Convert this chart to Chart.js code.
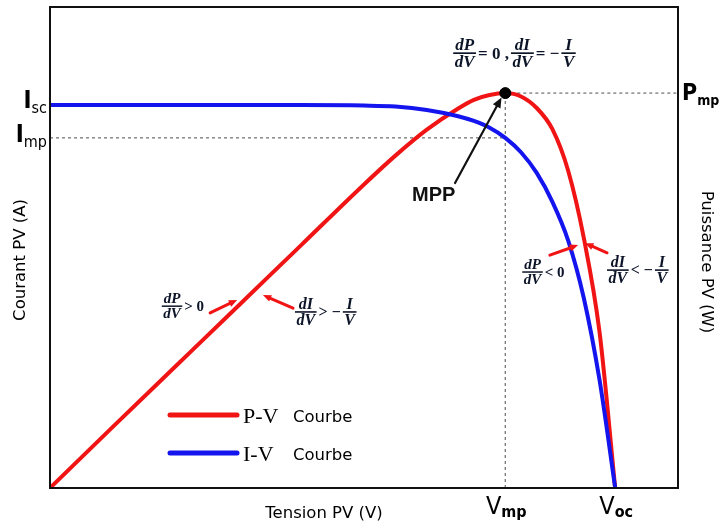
<!DOCTYPE html>
<html>
<head>
<meta charset="utf-8">
<script src="https://cdn.jsdelivr.net/npm/chart.js@4/dist/chart.umd.min.js"></script>
<style>
  html, body { margin: 0; padding: 0; background: #fff; }
  #wrap { width: 720px; height: 527px; position: relative; }
</style>
</head>
<body>
<div id="wrap"><canvas id="pv"></canvas></div>
<script>
// PV module characteristic (normalised units)
const voltage = [0, 1, 2, 3, 4, 5, 5.5, 6, 6.5, 6.75, 7, 7.25, 7.5, 7.75, 8, 8.25, 8.5, 8.75, 9];
const current = [7.96, 7.96, 7.96, 7.96, 7.96, 7.95, 7.93, 7.86, 7.73, 7.63, 7.49, 7.28, 6.98, 6.55, 5.95, 5.15, 3.95, 2.25, 0];
const power   = [0, 1.27, 2.53, 3.79, 5.05, 6.31, 6.91, 7.45, 7.89, 8.07, 8.17, 8.21, 8.14, 7.9, 7.46, 6.6, 5.2, 3.25, 0];

// characteristic points
const mppVoltage = [7.25];
const mppCurrent = [7.28];
const mppPower   = [8.21];
const shortCircuitCurrent = [7.96];
const openCircuitVoltage  = [9];

// tick labels: main letter + subscript
const leftTickValues  = [shortCircuitCurrent[0], mppCurrent[0]];
const leftTickLabels  = [['I', 'sc'], ['I', 'mp']];
const rightTickValues = [mppPower[0]];
const rightTickLabels = [['P', 'mp']];
const bottomTickValues = [mppVoltage[0], openCircuitVoltage[0]];
const bottomTickLabels = [['V', 'mp'], ['V', 'oc']];

const xTitle = 'Tension PV (V)';
const yTitle = 'Courant PV (A)';
const y1Title = 'Puissance PV (W)';
const legendNames = ['P-V', 'I-V'];
const legendWord = 'Courbe';

const RED = '#f01414';
const BLUE = '#1414ee';
const INK = '#0c1428';

const pts = (xs, ys) => xs.map((x, i) => ({ x, y: ys[i] }));

// ---------- drawing helpers ----------
function fraction(ctx, left, barY, num, den, size) {
  ctx.font = `bold italic ${size}px "Liberation Serif", "Times New Roman", serif`;
  const w = Math.max(ctx.measureText(num).width, ctx.measureText(den).width) + 3;
  const cx = left + w / 2;
  ctx.textAlign = 'center';
  ctx.textBaseline = 'alphabetic';
  ctx.fillText(num, cx, barY - 3);
  ctx.fillText(den, cx, barY + size * 0.8);
  ctx.lineWidth = Math.max(1.4, size / 10);
  ctx.beginPath();
  ctx.moveTo(left, barY);
  ctx.lineTo(left + w, barY);
  ctx.stroke();
  return w;
}

function formula(ctx, tokens, left, barY, size) {
  ctx.save();
  ctx.fillStyle = INK;
  ctx.strokeStyle = INK;
  let x = left;
  tokens.forEach(t => {
    if (Array.isArray(t)) {
      x += fraction(ctx, x, barY, t[0], t[1], size) + 2;
    } else {
      ctx.font = `bold ${size}px "Liberation Serif", "Times New Roman", serif`;
      ctx.textAlign = 'left';
      ctx.textBaseline = 'alphabetic';
      ctx.fillText(t, x, barY + size * 0.33);
      x += ctx.measureText(t).width + 2;
    }
  });
  ctx.restore();
}

function arrow(ctx, x1, y1, x2, y2, color, width, head) {
  const a = Math.atan2(y2 - y1, x2 - x1);
  ctx.save();
  ctx.strokeStyle = color;
  ctx.fillStyle = color;
  ctx.lineWidth = width;
  ctx.lineCap = 'round';
  ctx.beginPath();
  ctx.moveTo(x1, y1);
  ctx.lineTo(x2 - Math.cos(a) * head * 0.7, y2 - Math.sin(a) * head * 0.7);
  ctx.stroke();
  ctx.beginPath();
  ctx.moveTo(x2, y2);
  ctx.lineTo(x2 - head * Math.cos(a - 0.4), y2 - head * Math.sin(a - 0.4));
  ctx.lineTo(x2 - head * Math.cos(a + 0.4), y2 - head * Math.sin(a + 0.4));
  ctx.closePath();
  ctx.fill();
  ctx.restore();
}

function subLabel(ctx, main, sub, x, base, mainFont, subFont, subDrop, align) {
  ctx.font = mainFont;
  const wm = ctx.measureText(main).width;
  ctx.font = subFont;
  const ws = ctx.measureText(sub).width;
  let left = x;
  if (align === 'right') left = x - wm - ws;
  if (align === 'center') left = x - (wm + ws) / 2;
  ctx.textAlign = 'left';
  ctx.textBaseline = 'alphabetic';
  ctx.font = mainFont;
  ctx.fillText(main, left, base);
  ctx.font = subFont;
  ctx.fillText(sub, left + wm, base + subDrop);
}

// ---------- overlay plugin: frame, axis labels, annotations, legend ----------
const overlay = {
  id: 'overlay',
  afterDatasetsDraw(chart) {
    const { ctx, chartArea: ca, scales } = chart;
    const X = v => scales.x.getPixelForValue(v);
    const Y = v => scales.y.getPixelForValue(v);
    const Y1 = v => scales.y1.getPixelForValue(v);

    ctx.save();
    // plot frame
    ctx.strokeStyle = '#111';
    ctx.lineWidth = 2;
    ctx.strokeRect(ca.left, ca.top, ca.right - ca.left, ca.bottom - ca.top);

    ctx.fillStyle = '#000';
    // left labels
    leftTickValues.forEach((v, i) => {
      subLabel(ctx, leftTickLabels[i][0], leftTickLabels[i][1], ca.left - 3, Y(v) + 3 + i,
        'bold 24px "DejaVu Sans Condensed", "DejaVu Sans", sans-serif',
        '16px "DejaVu Sans Condensed", "DejaVu Sans", sans-serif', 5, 'right');
    });
    // right labels
    rightTickValues.forEach((v, i) => {
      subLabel(ctx, rightTickLabels[i][0], rightTickLabels[i][1], ca.right + 4, Y1(v) + 7,
        'bold 23px "DejaVu Sans Condensed", "DejaVu Sans", sans-serif',
        'bold 14px "DejaVu Sans Condensed", "DejaVu Sans", sans-serif', 5, 'left');
    });
    // bottom labels
    bottomTickValues.forEach((v, i) => {
      subLabel(ctx, bottomTickLabels[i][0], bottomTickLabels[i][1], X(v) + 1, ca.bottom + 26,
        '25px "DejaVu Sans Condensed", "DejaVu Sans", sans-serif',
        'bold 16px "DejaVu Sans Condensed", "DejaVu Sans", sans-serif', 3, 'center');
    });

    // axis titles
    ctx.font = '16.5px "DejaVu Sans", sans-serif';
    ctx.textAlign = 'center';
    ctx.textBaseline = 'middle';
    ctx.fillText(xTitle, 324, ca.bottom + 26);
    ctx.save();
    ctx.translate(21, 260);
    ctx.rotate(-Math.PI / 2);
    ctx.fillText(yTitle, 0, 0);
    ctx.restore();
    ctx.save();
    ctx.translate(706, 262);
    ctx.rotate(Math.PI / 2);
    ctx.fillText(y1Title, 0, 0);
    ctx.restore();

    // MPP marker label and pointer
    ctx.font = 'bold 20px "Liberation Sans", Arial, sans-serif';
    ctx.fillStyle = '#111';
    ctx.textAlign = 'center';
    ctx.textBaseline = 'middle';
    ctx.fillText('MPP', X(6.11), Y(6.09));
    arrow(ctx, X(6.45), Y(6.34), X(7.19), Y(8.12), '#111', 2.2, 11);

    // derivative conditions
    formula(ctx, [['dP', 'dV'], '= 0 ,', ['dI', 'dV'], '= −', ['I', 'V']], X(6.42), Y(9.04), 17);
    formula(ctx, [['dP', 'dV'], '> 0'], X(1.78), Y(3.78), 15);
    formula(ctx, [['dI', 'dV'], '> −', ['I', 'V']], X(3.90), Y(3.66), 16);
    formula(ctx, [['dP', 'dV'], '< 0'], X(7.52), Y(4.49), 15);
    formula(ctx, [['dI', 'dV'], '< −', ['I', 'V']], X(8.87), Y(4.53), 16);

    arrow(ctx, X(2.55), Y(3.64), X(2.98), Y(3.91), RED, 3, 9);
    arrow(ctx, X(3.87), Y(3.74), X(3.39), Y(4.01), RED, 3, 9);
    arrow(ctx, X(7.96), Y(4.84), X(8.41), Y(5.05), RED, 3, 9);
    arrow(ctx, X(8.87), Y(4.89), X(8.52), Y(5.09), RED, 3, 9);

    // legend
    const colors = [RED, BLUE];
    legendNames.forEach((name, i) => {
      const ly = 415 + i * 38;
      ctx.strokeStyle = colors[i];
      ctx.lineWidth = 5;
      ctx.lineCap = 'round';
      ctx.beginPath();
      ctx.moveTo(170, ly);
      ctx.lineTo(237, ly);
      ctx.stroke();
      ctx.fillStyle = '#000';
      ctx.textAlign = 'left';
      ctx.textBaseline = 'alphabetic';
      ctx.font = '22px "Liberation Serif", "Times New Roman", serif';
      ctx.fillText(name, 243, ly + 8);
      ctx.font = '16.5px "DejaVu Sans", sans-serif';
      ctx.fillText(legendWord, 293, ly + 7);
    });
    ctx.restore();
  }
};

const guide = { borderColor: '#777', borderWidth: 1.3, borderDash: [3, 3], pointRadius: 0, fill: false, tension: 0 };

new Chart(document.getElementById('pv'), {
  type: 'scatter',
  data: {
    datasets: [
      { label: 'MPP', data: pts(mppVoltage, mppPower), yAxisID: 'y1', showLine: false,
        pointRadius: 5.5, pointBackgroundColor: '#000', pointBorderColor: '#000', order: 0 },
      { label: 'I-V Courbe', data: pts(voltage, current), yAxisID: 'y', showLine: true,
        borderColor: BLUE, borderWidth: 4, pointRadius: 0, cubicInterpolationMode: 'monotone', order: 1 },
      { label: 'P-V Courbe', data: pts(voltage, power), yAxisID: 'y1', showLine: true,
        borderColor: RED, borderWidth: 4, pointRadius: 0, cubicInterpolationMode: 'monotone', order: 2 },
      Object.assign({ data: [{ x: 0, y: mppCurrent[0] }, { x: mppVoltage[0], y: mppCurrent[0] }], yAxisID: 'y', showLine: true, order: 3 }, guide),
      Object.assign({ data: [{ x: mppVoltage[0], y: mppPower[0] }, { x: 10, y: mppPower[0] }], yAxisID: 'y1', showLine: true, order: 3 }, guide),
      Object.assign({ data: [{ x: mppVoltage[0], y: 0 }, { x: mppVoltage[0], y: mppPower[0] }], yAxisID: 'y1', showLine: true, order: 3 }, guide)
    ]
  },
  options: {
    responsive: true,
    maintainAspectRatio: false,
    animation: false,
    layout: { padding: { left: 50, right: 42, top: 7, bottom: 39 } },
    plugins: { legend: { display: false }, tooltip: { enabled: false } },
    scales: {
      x: { type: 'linear', min: 0, max: 10, display: false },
      y: { type: 'linear', position: 'left', min: 0, max: 10, display: false },
      y1: { type: 'linear', position: 'right', min: 0, max: 10, display: false }
    }
  },
  plugins: [overlay]
});
</script>
</body>
</html>
